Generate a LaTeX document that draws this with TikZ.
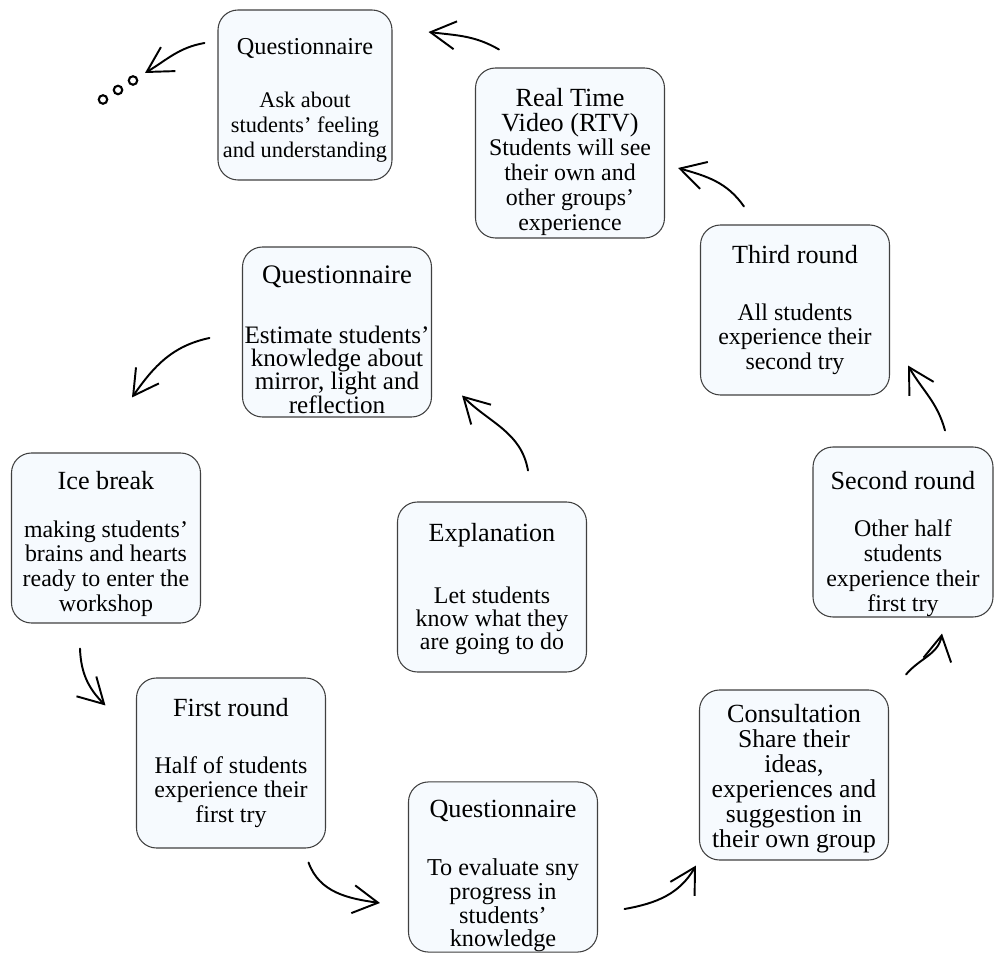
\documentclass[tikz,border=0pt]{standalone}
\usepackage{fontspec}
\setmainfont{Liberation Serif}
\usetikzlibrary{arrows.meta}
\definecolor{stagefill}{RGB}{246,250,254}
\newcommand{\stagehead}[2][14.9]{{\fontsize{#1}{14.2}\selectfont #2}}
\tikzset{
  stage/.style={draw=black!75,line width=0.6pt,fill=stagefill,rounded corners=0.4cm,
    minimum width=3.78cm,minimum height=3.4cm,inner sep=0pt,
    align=center,font=\fontsize{13.6}{14.2}\selectfont},
  flow/.style={line width=1.1pt,line cap=round,
    -{Straight Barb[length=5mm,width=5.6mm,line width=1.1pt]}}
}
\begin{document}
\begin{tikzpicture}
\useasboundingbox (0,0) rectangle (19.88,19.04);
% stages of the workshop
\node[stage,minimum width=3.48cm,font=\fontsize{12.7}{14.2}\selectfont] (q3) at (6.10,17.14)
  {\rule{0pt}{0.53cm}\stagehead[13.8]{Questionnaire}\\[0.56cm]Ask about\\students' feeling\\and understanding};
\node[stage] (rtv) at (11.40,15.98)
  {\rule{0pt}{0.72cm}\stagehead{Real Time}\\\stagehead{Video (RTV)}\\Students will see\\their own and\\other groups'\\experience};
\node[stage] (third) at (15.90,12.84)
  {\stagehead{Third round}\\[0.64cm]All students\\experience their\\second try};
\node[stage,minimum width=3.6cm] (second) at (18.06,8.40)
  {\rule{0pt}{0.84cm}\stagehead{Second round}\\[0.46cm]Other half\\students\\experience their\\first try};
\node[stage,font=\fontsize{14.6}{14.2}\selectfont] (consult) at (15.88,3.54)
  {\rule{0pt}{0.5cm}\stagehead{Consultation}\\Share their\\ideas,\\experiences and\\suggestion in\\their own group};
\node[stage,font=\fontsize{13.8}{13.5}\selectfont] (q2) at (10.06,1.70)
  {\rule{0pt}{0.72cm}\stagehead{Questionnaire}\\[0.68cm]To evaluate sny\\progress in\\students'\\knowledge};
\node[stage] (first) at (4.62,3.78)
  {\stagehead{First round}\\[0.64cm]Half of students\\experience their\\first try};
\node[stage] (ice) at (2.12,8.28)
  {\rule{0pt}{0.6cm}\stagehead{Ice break}\\[0.46cm]making students'\\brains and hearts\\ready to enter the\\workshop};
\node[stage,font=\fontsize{14.3}{13.3}\selectfont] (q1) at (6.74,12.40)
  {\rule{0pt}{0.66cm}\stagehead[15.2]{Questionnaire}\\[0.73cm]Estimate students'\\knowledge about\\mirror, light and\\reflection};
\node[stage,font=\fontsize{13.6}{13.3}\selectfont] (expl) at (9.84,7.30)
  {\rule{0pt}{0.45cm}\stagehead{Explanation}\\[0.77cm]Let students\\know what they\\are going to do};
% hand drawn arrows
\draw[flow] ([shift={(0.72,0.62)}]expl.north) to[out=100,in=-45] ([shift={(0.6,0.44)}]q1.south east);
\draw[flow] ([shift={(-0.65,-0.12)}]q1.west) to[out=192,in=55] ([shift={(0.52,1.1)}]ice.north);
\draw[flow] ([shift={(-0.52,-0.5)}]ice.south) to[out=-88,in=135] ([shift={(-0.61,-0.56)}]first.north west);
\draw[flow] ([shift={(-0.35,-0.28)}]first.south east) to[out=-70,in=172] ([shift={(-0.56,-0.72)}]q2.west);
\draw[flow] ([shift={(0.53,-0.84)}]q2.east) to[out=10,in=-120] ([shift={(-0.06,-0.1)}]consult.south west);
\draw[flow] ([shift={(0.34,0.3)}]consult.north east) to[out=50,in=-100] ([shift={(0.78,-0.32)}]second.south);
\draw[flow] ([shift={(0.84,0.32)}]second.north) to[out=105,in=-60] ([shift={(0.36,0.6)}]third.south east);
\draw[flow] ([shift={(0.88,0.36)}]third.north west) to[out=125,in=-16] ([shift={(0.26,-0.3)}]rtv.east);
\draw[flow] ([shift={(0.48,0.36)}]rtv.north west) to[out=150,in=-7] ([shift={(0.72,1.26)}]q3.east);
\coordinate (more) at (2.36,17.24);
\draw[flow] ([shift={(-0.26,1.04)}]q3.west) to[out=190,in=31] ([shift={(0.54,0.34)}]more);
\foreach \d in {-1,0,1}
  \draw[line width=1.2pt] ([shift={(0.3*\d,0.19*\d)}]more) circle (0.085);
\end{tikzpicture}
\end{document}
